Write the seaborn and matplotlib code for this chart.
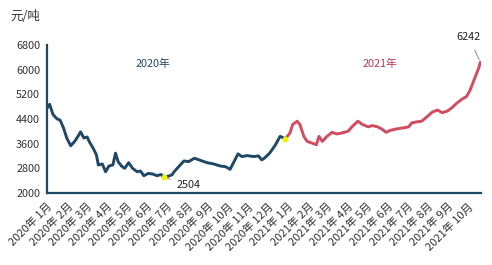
import matplotlib
matplotlib.use("Agg")
import matplotlib.pyplot as plt
import seaborn as sns
import pandas as pd

# ---- data ----
dates_2020 = ["2020-01-01", "2020-01-05", "2020-01-10", "2020-01-16", "2020-01-21", "2020-01-26",
              "2020-01-31", "2020-02-06", "2020-02-12", "2020-02-17", "2020-02-21", "2020-02-26",
              "2020-03-02", "2020-03-05", "2020-03-11", "2020-03-16", "2020-03-19", "2020-03-25",
              "2020-03-30", "2020-04-04", "2020-04-10", "2020-04-14", "2020-04-18", "2020-04-23",
              "2020-04-28", "2020-05-04", "2020-05-10", "2020-05-17", "2020-05-22", "2020-05-27",
              "2020-06-03", "2020-06-10", "2020-06-16", "2020-06-22", "2020-06-27", "2020-07-05",
              "2020-07-09", "2020-07-12", "2020-07-19", "2020-07-27", "2020-08-03", "2020-08-12",
              "2020-08-22", "2020-08-31", "2020-09-10", "2020-09-20", "2020-09-28", "2020-10-05",
              "2020-10-11", "2020-10-17", "2020-10-23", "2020-10-31", "2020-11-10", "2020-11-17",
              "2020-11-22", "2020-11-26", "2020-12-04", "2020-12-12", "2020-12-20", "2020-12-28"]
prices_2020 = [4750, 4877, 4550, 4407, 4362, 4112,
               3784, 3532, 3673, 3837, 3981, 3784,
               3817, 3673, 3456, 3237, 2909, 2942,
               2689, 2876, 2909, 3292, 3017, 2876,
               2800, 2984, 2800, 2689, 2712, 2560,
               2636, 2613, 2560, 2600, 2504, 2560,
               2590, 2689, 2853, 3040, 3017, 3128,
               3050, 2984, 2942, 2876, 2853, 2768,
               3017, 3269, 3181, 3214, 3181, 3204,
               3073, 3128, 3292, 3532, 3837, 3760]

dates_2021 = ["2020-12-28", "2021-01-04", "2021-01-08", "2021-01-15", "2021-01-19", "2021-01-25",
              "2021-01-30", "2021-02-06", "2021-02-13", "2021-02-17", "2021-02-22", "2021-03-01",
              "2021-03-09", "2021-03-16", "2021-03-24", "2021-04-02", "2021-04-09", "2021-04-17",
              "2021-04-24", "2021-05-03", "2021-05-09", "2021-05-17", "2021-05-23", "2021-05-30",
              "2021-06-05", "2021-06-15", "2021-06-25", "2021-07-03", "2021-07-08", "2021-07-16",
              "2021-07-23", "2021-07-31", "2021-08-08", "2021-08-16", "2021-08-23", "2021-08-31",
              "2021-09-07", "2021-09-14", "2021-09-22", "2021-09-29", "2021-10-04", "2021-10-09",
              "2021-10-14", "2021-10-18", "2021-10-20"]
prices_2021 = [3760, 3948, 4221, 4329, 4221, 3837,
               3673, 3620, 3565, 3837, 3673, 3837,
               3968, 3915, 3948, 4001, 4165, 4329,
               4221, 4145, 4188, 4145, 4080, 3968,
               4030, 4080, 4112, 4145, 4276, 4309,
               4329, 4473, 4624, 4690, 4604, 4657,
               4768, 4909, 5041, 5129, 5313, 5588,
               5861, 6081, 6242]

year_labels = ["2020年", "2021年"]
y_ticks = [2000, 2800, 3600, 4400, 5200, 6000, 6800]
month_ticks = pd.date_range("2020-01-01", "2021-10-01", freq="MS")
month_labels = [f"{d.year}年 {d.month}月" for d in month_ticks]
min_label = "2504"
max_label = "6242"
unit_label = "元/吨"

# ---- styling ----
NAVY = "#1f4866"
RED = "#d24b5f"
RED_TXT = "#b4384f"
YELLOW = "#f2f200"

sns.set_theme(style="white")
plt.rcParams["font.family"] = ["Noto Sans CJK SC", "DejaVu Sans"]

df = pd.concat([
    pd.DataFrame({"date": pd.to_datetime(dates_2020), "price": prices_2020, "year": year_labels[0]}),
    pd.DataFrame({"date": pd.to_datetime(dates_2021), "price": prices_2021, "year": year_labels[1]}),
], ignore_index=True)

fig = plt.figure(figsize=(4.92, 2.65), dpi=100)
ax = fig.add_axes([47 / 492, 1 - 193 / 265, (481 - 47) / 492, (193 - 45) / 265])

sns.lineplot(data=df, x="date", y="price", hue="year",
             palette={year_labels[0]: NAVY, year_labels[1]: RED},
             linewidth=2.1, legend=False, ax=ax, estimator=None, sort=False)

ax.set_xlim(pd.Timestamp("2020-01-01"), pd.Timestamp("2021-10-21"))
ax.set_ylim(y_ticks[0], y_ticks[-1])
ax.set_yticks(y_ticks)
ax.set_yticklabels([str(v) for v in y_ticks], fontsize=7.8, color="#333333")
ax.set_xticks(month_ticks)
ax.set_xticklabels(month_labels, fontsize=8, color="#333333",
                   rotation=45, ha="right", rotation_mode="anchor")
ax.set_xlabel("")
ax.set_ylabel("")

for s in ["top", "right"]:
    ax.spines[s].set_visible(False)
for s in ["left", "bottom"]:
    ax.spines[s].set_color(NAVY)
    ax.spines[s].set_linewidth(1.6)
ax.tick_params(axis="both", direction="in", length=4, width=1.3, color=NAVY)
ax.tick_params(axis="x", pad=6)
ax.tick_params(axis="y", pad=5)
ax.grid(False)

# markers: minimum and year junction
min_idx = prices_2020.index(min(prices_2020))
min_date = pd.Timestamp(dates_2020[min_idx])
ax.scatter([min_date, pd.Timestamp(dates_2020[-1])], [prices_2020[min_idx], prices_2020[-1]],
           s=18, color=YELLOW, zorder=5, linewidths=0)

# min annotation
ax.annotate(min_label, xy=(min_date, prices_2020[min_idx]),
            xytext=(min_date + pd.Timedelta(days=18), prices_2020[min_idx] - 230),
            fontsize=7.8, color="#222222", va="center", ha="left",
            arrowprops=dict(arrowstyle="-", color="#d080d0", lw=0.8,
                            shrinkA=2, shrinkB=2))

# max annotation
end_date = pd.Timestamp(dates_2021[-1])
ax.annotate(max_label, xy=(end_date, prices_2021[-1]),
            xytext=(end_date - pd.Timedelta(days=18), 7070),
            fontsize=7.8, color="#222222", va="center", ha="center",
            annotation_clip=False,
            arrowprops=dict(arrowstyle="-", color="#999999", lw=0.8,
                            shrinkA=4, shrinkB=2))

# year labels
ax.text(pd.Timestamp("2020-06-10"), 6200, year_labels[0], fontsize=7.8, color=NAVY,
        ha="center", va="center")
ax.text(pd.Timestamp("2021-05-20"), 6200, year_labels[1], fontsize=7.8, color=RED_TXT,
        ha="center", va="center")

# unit label
fig.text(10 / 492, 1 - 16 / 265, unit_label, fontsize=9, color="#333333",
         ha="left", va="center")

fig.savefig("out.png", dpi=100)
